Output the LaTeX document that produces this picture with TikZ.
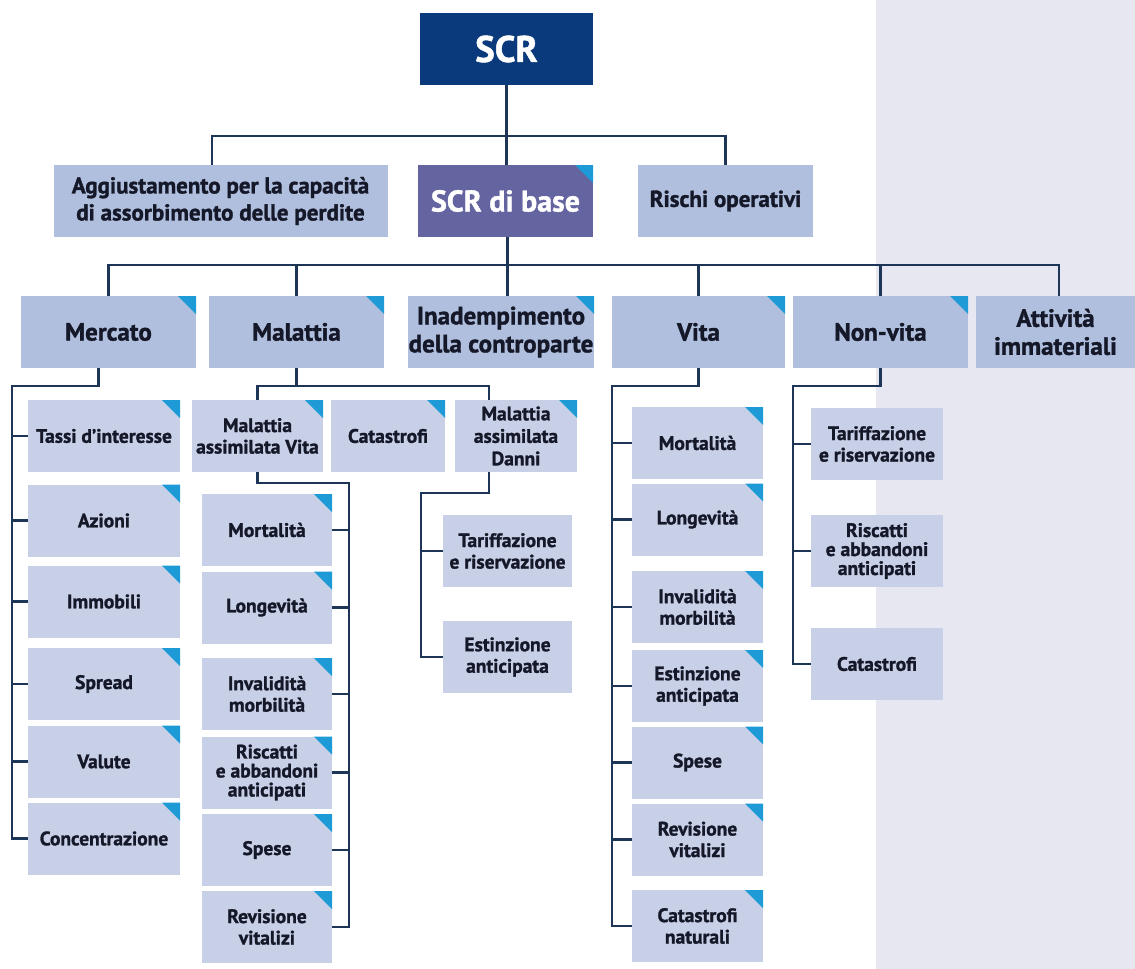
\documentclass[tikz,border=0pt]{standalone}
\usepackage{fontspec}
\setmainfont{PT Sans}[BoldFeatures={FakeBold=1.3}]
\definecolor{navy}{HTML}{0B3A7C}
\definecolor{purp}{HTML}{6464A0}
\definecolor{lfill}{HTML}{B0BFDD}
\definecolor{sfill}{HTML}{C7D0E7}
\definecolor{linec}{HTML}{1D3557}
\definecolor{tri}{HTML}{1E9BD7}
\definecolor{band}{HTML}{E7E7F1}
\definecolor{txt}{HTML}{151828}
\begin{document}
\begin{tikzpicture}[x=1pt,y=-1pt,
  box/.style={rectangle, inner sep=0pt, align=center, text=txt},
  l2/.style={box, fill=lfill, minimum height=72pt, font=\bfseries\fontsize{23}{27}\selectfont},
  l3/.style={box, fill=lfill, minimum height=72pt, font=\bfseries\fontsize{25}{28}\selectfont},
  l4/.style={box, fill=sfill, minimum height=72pt, font=\bfseries\fontsize{19.5}{21.5}\selectfont},
  l4t/.style={l4, font=\bfseries\fontsize{19.5}{19}\selectfont},
  l4m/.style={l4, font=\bfseries\fontsize{19.5}{22.5}\selectfont},
  corner/.style={path picture={\fill[tri] ([xshift=-18pt]path picture bounding box.north east) -- (path picture bounding box.north east) -- ([yshift=-18pt]path picture bounding box.north east) -- cycle;}},
  conn/.style={draw=linec, line width=2.7pt, line join=miter}]
\useasboundingbox (0,0) rectangle (1135,969);
\fill[white] (0,0) rectangle (1135,969);
\fill[band] (876,0) rectangle (1135,969);

% level 1 and 2
\node[box, fill=navy, text=white, minimum width=173pt, minimum height=72pt, font=\bfseries\fontsize{37}{40}\selectfont] (scr) at (506.5,49) {SCR};
\node[l2, minimum width=334pt] (agg) at (220.5,201) {Aggiustamento per la capacità\\di assorbimento delle perdite};
\node[box, corner, fill=purp, text=white, minimum width=175pt, minimum height=72pt, font=\bfseries\fontsize{30}{34}\selectfont] (base) at (505.5,201) {SCR di base};
\node[l2, minimum width=175pt] (risc) at (725.5,201) {Rischi operativi};

% level 3
\node[l3, corner, minimum width=175pt] (merc) at (108.5,332) {Mercato};
\node[l3, corner, minimum width=175pt] (mal) at (296.5,332) {Malattia};
\node[l3, corner, minimum width=186pt] (inad) at (501,332) {Inadempimento\\della controparte};
\node[l3, corner, minimum width=173pt] (vita) at (698.5,332) {Vita};
\node[l3, corner, minimum width=175pt] (nv) at (880.5,332) {Non-vita};
\node[l3, minimum width=159pt] (att) at (1055.5,332) {Attività\\immateriali};

% Mercato children
\node[l4, corner, minimum width=152pt] (tassi) at (104,436) {Tassi d’interesse};
\node[l4, corner, minimum width=152pt] (azioni) at (104,520.5) {Azioni};
\node[l4, corner, minimum width=152pt] (immob) at (104,601.5) {Immobili};
\node[l4, corner, minimum width=152pt] (spread) at (104,684) {Spread};
\node[l4, corner, minimum width=152pt] (valute) at (104,761.5) {Valute};
\node[l4, corner, minimum width=152pt] (conc) at (104,838.5) {Concentrazione};

% Malattia children
\node[l4, corner, minimum width=131pt] (mav) at (257.5,436) {Malattia\\assimilata Vita};
\node[l4, corner, minimum width=114pt] (catm) at (388,436) {Catastrofi};
\node[l4m, corner, minimum width=122pt] (mad) at (516,436) {Malattia\\assimilata\\Danni};

% MAV children
\node[l4, corner, minimum width=130pt] (mort1) at (267,530) {Mortalità};
\node[l4, corner, minimum width=130pt] (long1) at (267,607.5) {Longevità};
\node[l4, corner, minimum width=130pt] (inv1) at (267,694) {Invalidità\\morbilità};
\node[l4t, corner, minimum width=130pt] (ris1) at (267,772.5) {Riscatti\\e abbandoni\\anticipati};
\node[l4, corner, minimum width=130pt] (spe1) at (267,850) {Spese};
\node[l4, corner, minimum width=130pt] (rev1) at (267,927) {Revisione\\vitalizi};

% MAD children
\node[l4, minimum width=129pt] (tar1) at (507.5,551) {Tariffazione\\e riservazione};
\node[l4, minimum width=129pt] (est1) at (507.5,657) {Estinzione\\anticipata};

% Vita children
\node[l4, corner, minimum width=131pt] (mort2) at (697.5,443) {Mortalità};
\node[l4, corner, minimum width=131pt] (long2) at (697.5,519.5) {Longevità};
\node[l4, corner, minimum width=131pt] (inv2) at (697.5,607) {Invalidità\\morbilità};
\node[l4, corner, minimum width=131pt] (est2) at (697.5,686) {Estinzione\\anticipata};
\node[l4, corner, minimum width=131pt] (spe2) at (697.5,762.5) {Spese};
\node[l4, corner, minimum width=131pt] (rev2) at (697.5,839.5) {Revisione\\vitalizi};
\node[l4, corner, minimum width=131pt] (catn) at (697.5,926) {Catastrofi\\naturali};

% Non-vita children
\node[l4, minimum width=132pt] (tar2) at (877,444) {Tariffazione\\e riservazione};
\node[l4t, minimum width=132pt] (ris2) at (877,551) {Riscatti\\e abbandoni\\anticipati};
\node[l4, minimum width=132pt] (cat2) at (877,664) {Catastrofi};

% bus coordinates
\coordinate (bus1) at (0,136);
\coordinate (bus2) at (0,265);
\coordinate (bus3) at (0,386);
\coordinate (mbus) at (12,386);
\coordinate (mavbus) at (349,483);
\coordinate (madbus) at (421,493);
\coordinate (vbus) at (612,386);
\coordinate (nvbus) at (793,386);

% level 1 -> 2
\draw[conn] ([xshift=-8.5pt]agg.north) -- ([xshift=-8.5pt]agg.north |- bus1) -- (risc.north |- bus1) -- (risc.north);
\draw[conn] (scr.south) -- (scr.south |- base.north);
% level 2 -> 3
\draw[conn] (merc.north) -- (merc.north |- bus2) -- ([xshift=3.5pt]att.north |- bus2) -- ([xshift=3.5pt]att.north);
\draw[conn] ([xshift=2pt]base.south) -- ([xshift=2pt]base.south |- inad.north);
\draw[conn] (mal.north) -- (mal.north |- bus2);
\draw[conn] (vita.north) -- (vita.north |- bus2);
\draw[conn] (nv.north) -- (nv.north |- bus2);

% Mercato branch
\draw[conn] ([xshift=-10pt]merc.south) |- (mbus) -- (mbus |- conc.west) -- (conc.west);
\foreach \n in {tassi,azioni,immob,spread,valute}
  \draw[conn] (mbus |- \n.west) -- (\n.west);

% Malattia branch
\draw[conn] (mal.south) -- (mal.south |- bus3);
\draw[conn] (mav.north) -- (mav.north |- bus3) -- ([xshift=-27pt]mad.north |- bus3) -- ([xshift=-27pt]mad.north);
\draw[conn] (mav.south) |- (mavbus) -- (mavbus |- rev1.east) -- (rev1.east);
\foreach \n in {mort1,long1,inv1,ris1,spe1}
  \draw[conn] (mavbus |- \n.east) -- (\n.east);
\draw[conn] ([xshift=-27pt]mad.south) |- (madbus) -- (madbus |- est1.west) -- (est1.west);
\draw[conn] (madbus |- tar1.west) -- (tar1.west);

% Vita branch
\draw[conn] (vita.south) |- (vbus) -- (vbus |- catn.west) -- (catn.west);
\foreach \n in {mort2,long2,inv2,est2,spe2,rev2}
  \draw[conn] (vbus |- \n.west) -- (\n.west);

% Non-vita branch
\draw[conn] (nv.south) |- (nvbus) -- (nvbus |- cat2.west) -- (cat2.west);
\foreach \n in {tar2,ris2}
  \draw[conn] (nvbus |- \n.west) -- (\n.west);
\end{tikzpicture}
\end{document}
